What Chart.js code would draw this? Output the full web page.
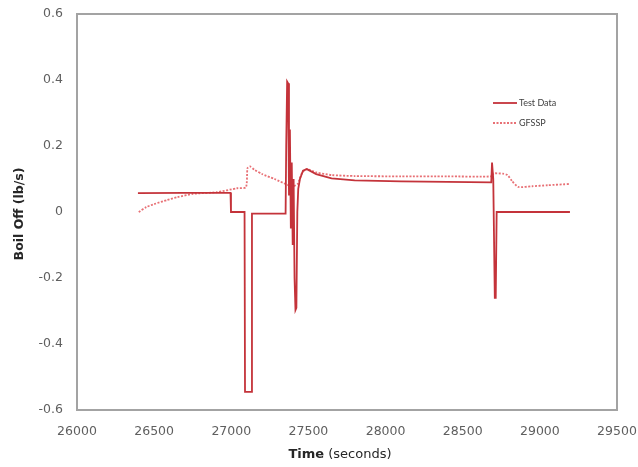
<!DOCTYPE html>
<html><head><meta charset="utf-8">
<script src="https://cdn.jsdelivr.net/npm/chart.js@4"></script>
<style>html,body{margin:0;padding:0;background:#fff}#wrap{width:638px;height:467px}</style>
</head><body><div id="wrap"><canvas id="c" width="638" height="467"></canvas></div>
<script>
const xTicks = [26000,26500,27000,27500,28000,28500,29000,29500];
const yTicks = [-0.6,-0.4,-0.2,0,0.2,0.4,0.6];
const seriesNames = ["Test Data","GFSSP"];
const testTime = [26395,26700,26995,26998,27086,27089,27131,27134,27352,27356,27362,27368,27374,27380,27386,27392,27398,27404,27410,27416,27422,27428,27434,27445,27465,27490,27550,27650,27800,28100,28400,28685,28690,28698,28708,28714,28720,29195];
const testVal  = [0.057,0.058,0.058,0.0,0.0,-0.545,-0.545,-0.005,-0.005,0.2,0.395,0.39,0.05,0.25,-0.05,0.15,-0.1,0.1,-0.2,-0.297,-0.29,0.0,0.07,0.1,0.125,0.13,0.115,0.102,0.096,0.093,0.091,0.09,0.15,0.1,-0.26,-0.26,0.0,0.0];
const gfTime = [26400,26450,26500,26583,26650,26752,26907,27037,27095,27105,27121,27150,27200,27280,27367,27400,27430,27460,27490,27550,27650,27800,28100,28400,28690,28700,28760,28790,28820,28860,28950,29050,29195];
const gfVal  = [0.0,0.015,0.024,0.036,0.045,0.055,0.06,0.072,0.075,0.133,0.138,0.128,0.115,0.1,0.082,0.078,0.085,0.12,0.13,0.12,0.112,0.109,0.108,0.108,0.108,0.117,0.116,0.112,0.094,0.076,0.078,0.081,0.085];

const toPts = (t,v) => t.map((x,i)=>({x:x,y:v[i]}));
const FONT = "'DejaVu Sans', sans-serif";
const LFONT = "Lato, 'Liberation Sans', sans-serif";
const TESTC = "#c4333a", GFC = "#e87075";

const frame = {
  id:'frame',
  afterDraw(chart){
    const {ctx, chartArea:a} = chart;
    ctx.save();
    ctx.strokeStyle = '#a3a3a3'; ctx.lineWidth = 2;
    ctx.strokeRect(a.left, a.top, a.right-a.left, a.bottom-a.top);
    // legend
    ctx.font = "9px " + LFONT; ctx.fillStyle = '#404040'; ctx.textBaseline='middle';
    ctx.strokeStyle = TESTC; ctx.lineWidth = 1.8; ctx.setLineDash([]);
    ctx.beginPath(); ctx.moveTo(493,103); ctx.lineTo(517,103); ctx.stroke();
    ctx.fillText(seriesNames[0], 519, 103);
    ctx.strokeStyle = GFC; ctx.setLineDash([2,1.5]);
    ctx.beginPath(); ctx.moveTo(493,123); ctx.lineTo(517,123); ctx.stroke();
    ctx.setLineDash([]);
    ctx.fillText(seriesNames[1], 519, 123);
    // axis titles
    ctx.fillStyle = '#262626';
    ctx.font = "bold 13px " + FONT; ctx.textBaseline='middle';
    const t1 = "Time", t2 = " (seconds)";
    const w1 = ctx.measureText(t1).width;
    ctx.font = "13px " + FONT;
    const w2 = ctx.measureText(t2).width;
    let x0 = 340 - (w1+w2)/2;
    ctx.font = "bold 13px " + FONT; ctx.textAlign='left';
    ctx.fillText(t1, x0, 455);
    ctx.font = "13px " + FONT;
    ctx.fillText(t2, x0+w1, 455);
    ctx.translate(20, 214); ctx.rotate(-Math.PI/2);
    ctx.font = "bold 12.5px " + FONT; ctx.textAlign='center';
    ctx.fillText("Boil Off (lb/s)", 0, 0);
    ctx.restore();
  }
};

new Chart(document.getElementById('c'), {
  type:'scatter',
  data:{datasets:[
    {label:seriesNames[0], data:toPts(testTime,testVal), showLine:true, borderColor:TESTC, backgroundColor:TESTC, borderWidth:1.8, pointRadius:0, tension:0},
    {label:seriesNames[1], data:toPts(gfTime,gfVal), showLine:true, borderColor:GFC, backgroundColor:GFC, borderWidth:1.8, borderDash:[2,1.5], pointRadius:0, tension:0.2}
  ]},
  options:{
    responsive:false, animation:false, devicePixelRatio:1,
    layout:{padding:{top:14,right:21,left:0,bottom:0}},
    plugins:{legend:{display:false}, tooltip:{enabled:false}},
    scales:{
      x:{type:'linear', min:xTicks[0], max:xTicks[xTicks.length-1],
        afterBuildTicks(s){ s.ticks = xTicks.map(v=>({value:v})); },
        afterFit(s){ s.height = 57; s.paddingLeft = 0; s.paddingRight = 0; },
        grid:{display:false, drawTicks:false}, border:{display:false},
        ticks:{padding:14, color:'#5f5f5f', font:{family:FONT,size:12.5}, maxRotation:0, autoSkip:false, callback:v=>String(v)}},
      y:{type:'linear', min:yTicks[0], max:yTicks[yTicks.length-1],
        afterBuildTicks(s){ s.ticks = yTicks.map(v=>({value:v})); },
        afterFit(s){ s.width = 77; s.paddingTop = 0; s.paddingBottom = 0; },
        grid:{display:false, drawTicks:false}, border:{display:false},
        ticks:{padding:14, color:'#5f5f5f', font:{family:FONT,size:12.5}, callback:v=>String(Math.round(v*10)/10)}}
    }
  },
  plugins:[frame]
});
</script></body></html>
